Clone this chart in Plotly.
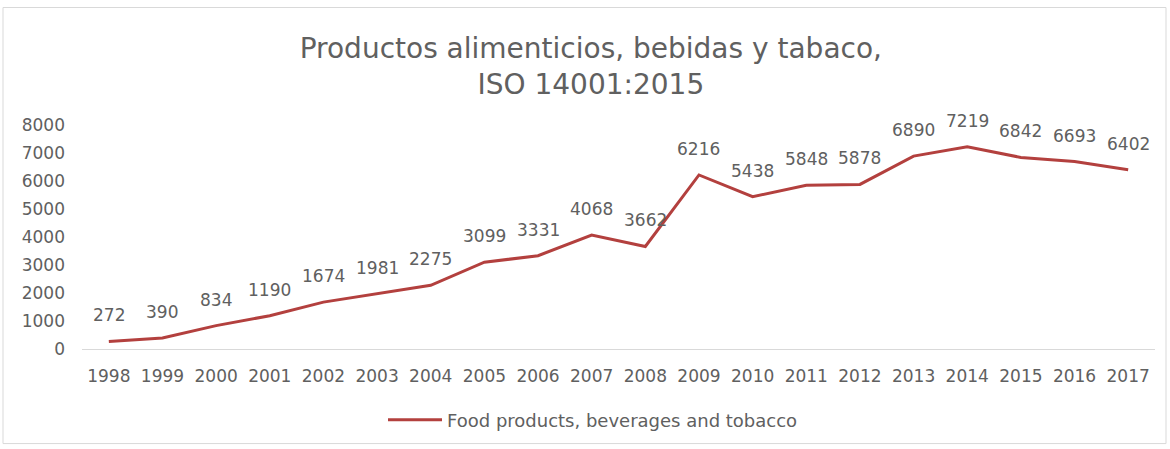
import plotly.graph_objects as go

# Certificates per year for the food, beverages and tobacco sector
years = [str(y) for y in range(1998, 2018)]
values = [272, 390, 834, 1190, 1674, 1981, 2275, 3099, 3331, 4068,
          3662, 6216, 5438, 5848, 5878, 6890, 7219, 6842, 6693, 6402]
series_name = "Food products, beverages and tobacco"
title_text = "Productos alimenticios, bebidas y tabaco,<br>ISO 14001:2015"
y_ticks = [0, 1000, 2000, 3000, 4000, 5000, 6000, 7000, 8000]

W, H = 1170, 449
L, R, T, B = 82, 15, 125, 99
FONT = "DejaVu Sans"
TEXT = "#606060"
LINE = "#B3403E"

fig = go.Figure()
fig.add_trace(go.Scatter(
    x=years, y=values, mode="lines", name=series_name,
    line=dict(color=LINE, width=3),
))

# value labels above each point (x given as category index)
for i, v in enumerate(values):
    fig.add_annotation(x=i, y=v, xref="x", yref="y", text=str(v),
                       showarrow=False, yanchor="middle", yshift=26,
                       font=dict(family=FONT, size=17, color=TEXT))

pw = W - L - R
ph = H - T - B
# thin frame around the whole chart
fig.add_shape(type="rect", xref="paper", yref="paper",
              x0=(3 - L) / pw, x1=(1166 - L) / pw,
              y0=-(445 - (H - B)) / ph, y1=1 + (T - 7) / ph,
              line=dict(color="#D9D9D9", width=1), layer="below")

fig.update_layout(
    width=W, height=H,
    margin=dict(l=L, r=R, t=T, b=B),
    paper_bgcolor="white", plot_bgcolor="white",
    title=dict(text=title_text, x=0.505, xanchor="center",
               y=1 - 58 / H, yanchor="middle", yref="container",
               font=dict(family=FONT, size=28, color=TEXT)),
    showlegend=True,
    legend=dict(orientation="h", x=(593 - L) / pw, xanchor="center",
                y=-(420 - (H - B)) / ph, yanchor="middle",
                font=dict(family=FONT, size=18, color=TEXT),
                itemwidth=54, bgcolor="rgba(0,0,0,0)"),
    xaxis=dict(type="category", showgrid=False, zeroline=False,
               showline=True, linecolor="#D9D9D9", linewidth=1,
               ticks="", tickfont=dict(family=FONT, size=17, color=TEXT),
               ticklabelstandoff=12,
               range=[-0.5, len(years) - 0.5], fixedrange=True),
    yaxis=dict(range=[0, 8000], tickvals=y_ticks, showgrid=False,
               zeroline=False, showline=False, ticks="",
               tickfont=dict(family=FONT, size=17, color=TEXT),
               ticklabelstandoff=16),
)

fig.write_html("out.html")
